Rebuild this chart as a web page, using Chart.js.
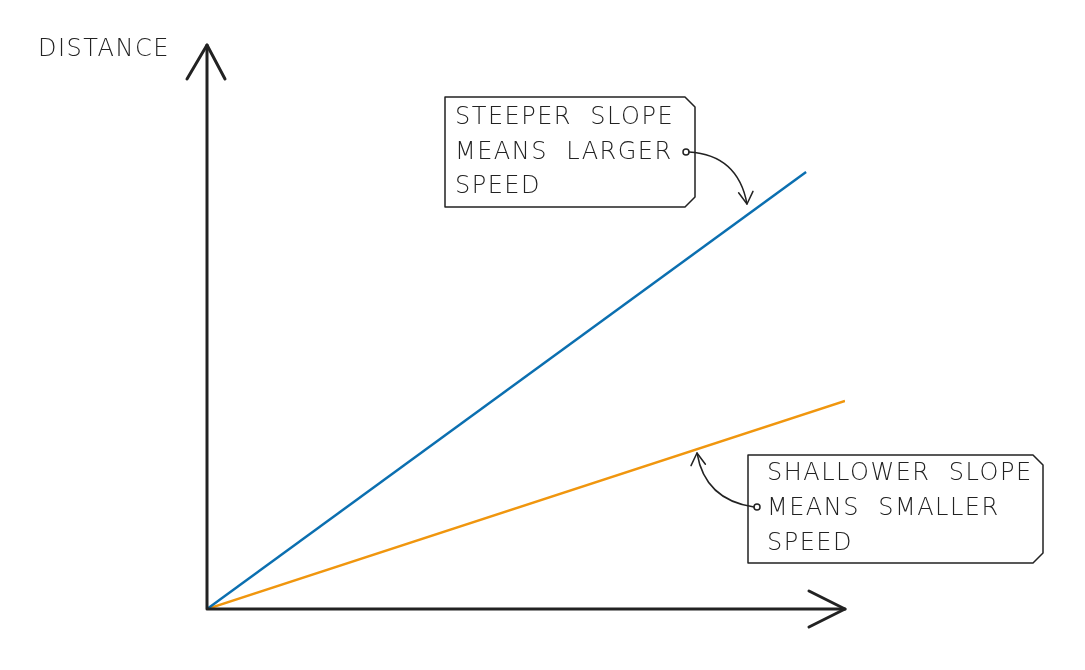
<!DOCTYPE html>
<html>
<head>
<meta charset="utf-8">
<script src="https://cdn.jsdelivr.net/npm/chart.js@4/dist/chart.umd.min.js"></script>
<style>
  html, body { margin: 0; padding: 0; background: #fff; }
  #wrap { width: 1085px; height: 670px; }
</style>
</head>
<body>
<div id="wrap"><canvas id="c"></canvas></div>
<script>
// Data
const blueLine = [{ x: 0, y: 0 }, { x: 9.39, y: 7.75 }]
const orangeLine = [{ x: 0, y: 0 }, { x: 10, y: 3.69 }]
const yAxisTitle = "DISTANCE"
const steepNote = ["STEEPER SLOPE", "MEANS LARGER", "SPEED"]
const shallowNote = ["SHALLOWER SLOPE", "MEANS SMALLER", "SPEED"]

const INK = "#222"
const FONT = "300 24px 'DejaVu Sans', sans-serif"

function tagBox(ctx, x, y, w, h) {
  const c = 10
  ctx.beginPath()
  ctx.moveTo(x, y)
  ctx.lineTo(x + w - c, y)
  ctx.lineTo(x + w, y + c)
  ctx.lineTo(x + w, y + h - c)
  ctx.lineTo(x + w - c, y + h)
  ctx.lineTo(x, y + h)
  ctx.closePath()
  ctx.fillStyle = "#fff"
  ctx.fill()
  ctx.stroke()
}

function arrowHead(ctx, x, y, ang, len) {
  ctx.beginPath()
  ctx.moveTo(x + len * Math.cos(ang + 2.6), y + len * Math.sin(ang + 2.6))
  ctx.lineTo(x, y)
  ctx.lineTo(x + len * Math.cos(ang - 2.6), y + len * Math.sin(ang - 2.6))
  ctx.stroke()
}

function spacedText(ctx, t, x, y) {
  // wider word gaps like the hand lettering
  ctx.fillText(t.replace(/ /g, "  "), x, y)
}

const sketchPlugin = {
  id: "sketch",
  afterDatasetsDraw(chart) {
    const ctx = chart.ctx
    const a = chart.chartArea
    ctx.save()
    ctx.strokeStyle = INK
    ctx.lineCap = "round"
    ctx.lineJoin = "round"

    // axes
    ctx.lineWidth = 3
    ctx.beginPath()
    ctx.moveTo(a.left, a.bottom)
    ctx.lineTo(a.left, a.top)
    ctx.moveTo(a.left, a.bottom)
    ctx.lineTo(a.right, a.bottom)
    ctx.stroke()
    ctx.beginPath()
    ctx.moveTo(a.left - 20, a.top + 34)
    ctx.lineTo(a.left, a.top)
    ctx.lineTo(a.left + 18, a.top + 34)
    ctx.moveTo(a.right - 36, a.bottom - 18)
    ctx.lineTo(a.right, a.bottom)
    ctx.lineTo(a.right - 36, a.bottom + 18)
    ctx.stroke()

    ctx.fillStyle = INK
    ctx.font = FONT
    ctx.letterSpacing = "1.5px"
    ctx.textBaseline = "middle"
    spacedText(ctx, yAxisTitle, 38, 50)

    // notes
    ctx.lineWidth = 1.5
    tagBox(ctx, 445, 97, 250, 110)
    ctx.fillStyle = INK
    steepNote.forEach((t, i) => spacedText(ctx, t, 455, 118 + i * 34.5))
    tagBox(ctx, 748, 455, 295, 108)
    ctx.fillStyle = INK
    shallowNote.forEach((t, i) => spacedText(ctx, t, 767, 474 + i * 35))

    // pointers
    ctx.beginPath()
    ctx.arc(686, 152, 3, 0, Math.PI * 2)
    ctx.stroke()
    ctx.beginPath()
    ctx.moveTo(689, 152)
    ctx.quadraticCurveTo(738, 155, 747, 204)
    ctx.stroke()
    arrowHead(ctx, 747, 204, Math.PI / 2 - 0.1, 14)

    ctx.beginPath()
    ctx.arc(757, 507, 3, 0, Math.PI * 2)
    ctx.stroke()
    ctx.beginPath()
    ctx.moveTo(754, 507)
    ctx.quadraticCurveTo(705, 500, 697, 453)
    ctx.stroke()
    arrowHead(ctx, 697, 453, -Math.PI / 2 - 0.1, 14)
    ctx.restore()
  }
}

new Chart(document.getElementById("c"), {
  type: "scatter",
  data: {
    datasets: [
      { data: blueLine, showLine: true, borderColor: "#0b6fb0", borderWidth: 2.5, pointRadius: 0 },
      { data: orangeLine, showLine: true, borderColor: "#f0960e", borderWidth: 2.5, pointRadius: 0 }
    ]
  },
  options: {
    responsive: true,
    maintainAspectRatio: false,
    animation: false,
    layout: { padding: { left: 207, right: 240, top: 45, bottom: 61 } },
    scales: {
      x: { type: "linear", min: 0, max: 10, display: false },
      y: { type: "linear", min: 0, max: 10, display: false }
    },
    plugins: { legend: { display: false }, tooltip: { enabled: false } }
  },
  plugins: [sketchPlugin]
})
</script>
</body>
</html>
